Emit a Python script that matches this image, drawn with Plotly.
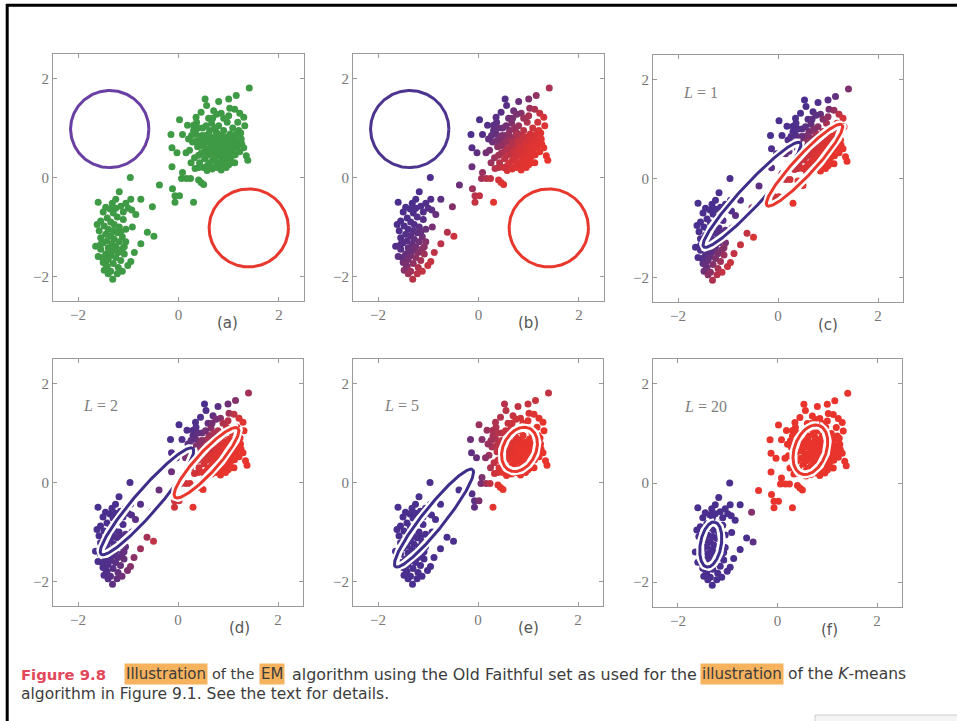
import numpy as np
import plotly.graph_objects as go

# ---------------- data (standardised Old Faithful points) -------------
short_cluster = [
    (-0.96, 0.00), (-1.18, -0.29), (-1.60, -0.50), (-1.25, -0.44), (-0.95, -0.44), (-0.75, -0.44),
    (-1.05, -0.52), (-1.15, -0.58), (-1.00, -0.62), (-0.93, -0.66), (-1.45, -0.60), (-1.36, -0.64),
    (-1.50, -0.70), (-0.52, -0.59), (-1.30, -0.72), (-1.22, -0.80), (-1.42, -0.82), (-1.55, -0.88),
    (-1.35, -0.90), (-1.10, -0.85), (-1.28, -0.95), (-1.48, -0.98), (-1.18, -1.00), (-1.40, -1.05),
    (-1.58, -1.08), (-1.30, -1.08), (-1.05, -1.05), (-1.22, -1.12), (-1.45, -1.15), (-1.35, -1.18),
    (-1.12, -1.20), (-1.55, -1.22), (-1.28, -1.25), (-1.42, -1.28), (-1.18, -1.30), (-1.05, -1.30),
    (-1.50, -1.32), (-1.32, -1.35), (-1.65, -1.39), (-1.25, -1.40), (-1.40, -1.42), (-1.12, -1.44),
    (-1.55, -1.45), (-1.30, -1.48), (-1.20, -1.52), (-1.45, -1.55), (-1.35, -1.58), (-1.08, -1.55),
    (-1.52, -1.62), (-1.25, -1.62), (-1.40, -1.66), (-1.15, -1.68), (-1.50, -1.72), (-1.30, -1.74),
    (-1.01, -1.78), (-1.42, -1.80), (-1.20, -1.82), (-1.48, -1.88), (-1.35, -1.90), (-1.12, -1.90),
    (-1.40, -1.95), (-1.31, -2.06), (-0.62, -1.11), (-0.49, -1.19), (-0.75, -1.34), (-0.92, -1.00),
    (-0.88, -1.52), (-0.95, -1.70), (-1.60, -1.60), (-1.38, -1.48), (-1.15, -1.10), (-1.62, -0.95),
    (-1.25, -0.62), (-1.10, -0.70), (-1.32, -0.52), (-0.85, -0.75), (-1.45, -1.75), (-1.22, -1.95),
    (-1.55, -1.35), (-1.08, -1.40),
]
bridge_points = [
    (-0.38, -0.15), (-0.12, -0.23), (-0.07, -0.37), (0.02, -0.37), (-0.07, -0.50), (0.30, -0.50),
]
long_cluster = [
    (1.41, 1.81), (1.15, 1.66), (1.00, 1.59), (0.53, 1.59), (0.80, 1.54), (0.56, 1.46), (1.02, 1.40),
    (1.12, 1.38), (1.22, 1.30), (1.30, 1.22), (0.70, 1.35), (0.85, 1.30), (0.45, 1.32), (0.35, 1.22),
    (0.60, 1.20), (0.02, 1.17), (0.18, 1.06), (0.30, 1.06), (-0.15, 0.87), (0.08, 0.87), (-0.13, 0.60),
    (-0.03, 0.50), (-0.13, 0.22), (0.08, 0.10), (0.06, -0.02), (0.16, -0.02), (0.24, -0.02), (0.40, -0.05),
    (0.45, -0.10), (0.50, -0.14), (0.40, 0.20), (0.57, 0.14), (0.67, 0.17), (0.77, 0.20), (0.87, 0.24),
    (1.00, 0.26), (1.12, 0.30), (1.35, 0.44), (1.38, 0.35), (1.30, 0.60), (1.25, 0.78), (1.20, 0.95),
    (1.32, 1.05),
    (0.22, 0.55), (0.28, 0.72), (0.32, 0.40), (0.35, 0.88), (0.38, 0.62), (0.42, 0.30), (0.44, 0.78),
    (0.46, 0.50), (0.48, 1.00), (0.50, 0.66), (0.52, 0.38), (0.54, 0.85), (0.56, 0.58), (0.58, 0.25),
    (0.60, 0.72), (0.62, 0.95), (0.63, 0.48), (0.65, 0.62), (0.66, 1.10), (0.68, 0.35), (0.70, 0.80),
    (0.71, 0.55), (0.73, 0.68), (0.74, 0.42), (0.75, 0.92), (0.77, 0.60), (0.78, 0.30), (0.79, 0.75),
    (0.80, 1.05), (0.82, 0.50), (0.83, 0.65), (0.84, 0.85), (0.86, 0.40), (0.87, 0.72), (0.88, 0.58),
    (0.90, 0.95), (0.91, 0.30), (0.92, 0.68), (0.93, 0.48), (0.95, 0.82), (0.96, 0.60), (0.97, 1.12),
    (0.98, 0.38), (1.00, 0.72), (1.01, 0.52), (1.03, 0.88), (1.04, 0.65), (1.05, 0.42), (1.07, 0.78),
    (1.08, 1.00), (1.10, 0.58), (1.12, 0.70), (1.13, 0.46), (1.15, 0.88), (1.17, 0.62), (1.18, 1.12),
    (1.20, 0.75), (1.22, 0.52), (1.24, 0.90), (1.26, 0.68), (0.30, 0.95), (0.36, 1.12), (0.40, 0.45),
    (0.45, 0.65), (0.52, 0.52), (0.55, 0.75), (0.58, 0.45), (0.61, 0.58), (0.64, 0.82), (0.67, 0.70),
    (0.69, 0.52), (0.72, 1.00), (0.76, 0.48), (0.78, 0.88), (0.81, 0.70), (0.85, 0.62), (0.89, 0.80),
    (0.92, 0.55), (0.94, 0.70), (0.99, 0.62), (1.02, 0.80), (1.06, 0.55), (1.09, 0.85), (1.11, 0.65),
    (1.14, 0.75), (0.25, 0.30), (0.33, 0.18), (0.50, 0.20), (0.62, 0.30), (0.73, 0.22), (0.85, 0.15),
    (0.95, 0.20), (1.05, 0.30), (0.15, 0.50), (0.20, 0.78), (0.26, 0.85), (0.40, 1.00), (0.55, 1.05),
    (0.68, 1.20), (0.90, 1.20), (1.00, 1.25), (0.76, 1.28), (0.60, 0.88), (0.47, 0.85), (0.37, 0.75),
]

panel_labels = ["(a)", "(b)", "(c)", "(d)", "(e)", "(f)"]
iteration_labels = [None, None, "1", "2", "5", "20"]
tick_values = [-2, 0, 2]

# Gaussian components drawn in each panel (centre, semi-axes, rotation in degrees)
purple_cx = [-1.37, -1.37, -0.52, -0.62, -0.88, -1.34]
purple_cy = [0.98, 0.98, -0.33, -0.38, -0.72, -1.24]
purple_a = [0.78, 0.78, 1.43, 1.41, 1.25, 0.46]
purple_b = [0.78, 0.78, 0.22, 0.24, 0.22, 0.21]
purple_ang = [0, 0, 47.5, 49.4, 51.8, 80]
red_cx = [1.40, 1.40, 0.53, 0.57, 0.83, 0.66]
red_cy = [-1.02, -1.02, 0.27, 0.40, 0.67, 0.67]
red_a = [0.79, 0.79, 1.11, 0.94, 0.47, 0.52]
red_b = [0.79, 0.79, 0.20, 0.21, 0.33, 0.32]
red_ang = [0, 0, 47.5, 48, 65, 70]
purple_weight = [0.5, 0.5, 0.5, 0.5, 0.5, 0.5]

# ---------------- styling ----------------
W, H = 957, 721
GREEN = "#3f9a45"
PURPLE_PT = "#4a2f8e"
RED_PT = "#e8342c"
PURPLE_LINE = ["#6a3fa3", "#4d358f", "#3f2d8a", "#3f2d8a", "#3f2d8a", "#3f2d8a"]
RED_LINE = "#e8382e"
SERIF = "Liberation Serif, Times New Roman, serif"
SANS = "DejaVu Sans, Liberation Sans, Arial, sans-serif"

# panel boxes in pixels: (left, right, top, bottom)
boxes = [
    (53, 304, 54, 301), (353, 604, 54, 301), (653, 903, 55, 302),
    (53, 303, 359, 606), (353, 603, 359, 606), (653, 902, 359, 607),
]
label_pos = [(227, 323), (528, 323), (828, 325), (240, 628), (528, 628), (829, 630)]
iter_pos = [None, None, (700, 93), (100, 405), (401, 405), (705, 406)]


def px(x):
    return x / W


def py(y):
    return 1 - y / H


pts = short_cluster + bridge_points + long_cluster
X = np.array([p[0] for p in pts])
Y = np.array([p[1] for p in pts])


def cov_of(a, b, ang):
    t = np.deg2rad(ang)
    R = np.array([[np.cos(t), -np.sin(t)], [np.sin(t), np.cos(t)]])
    return R @ np.diag([a * a, b * b]) @ R.T


def gauss(mx, my, C):
    d = np.stack([X - mx, Y - my], axis=1)
    Ci = np.linalg.inv(C)
    m = np.einsum("ni,ij,nj->n", d, Ci, d)
    return np.exp(-0.5 * m) / np.sqrt(np.linalg.det(C))


def ellipse(cx, cy, a, b, ang):
    t = np.linspace(0, 2 * np.pi, 240)
    th = np.deg2rad(ang)
    ex = cx + a * np.cos(t) * np.cos(th) - b * np.sin(t) * np.sin(th)
    ey = cy + a * np.cos(t) * np.sin(th) + b * np.sin(t) * np.cos(th)
    return ex, ey


fig = go.Figure()
layout_axes = {}
annotations = []

for i in range(6):
    sfx = "" if i == 0 else str(i + 1)
    xa, ya = "x" + sfx, "y" + sfx
    l, r, t, b = boxes[i]
    common = dict(range=[-2.5, 2.5], tickvals=tick_values, ticks="inside", ticklen=4,
                  tickcolor="#9a9a9a", showline=True, linecolor="#9a9a9a", linewidth=1,
                  mirror="ticks", showgrid=False, zeroline=False, fixedrange=True,
                  automargin=False,
                  tickfont=dict(family=SERIF, size=15, color="#777777"))
    layout_axes["xaxis" + sfx] = dict(domain=[px(l), px(r)], anchor=ya, **common)
    layout_axes["yaxis" + sfx] = dict(domain=[py(b), py(t)], anchor=xa, **common)

    if i == 0:
        fig.add_trace(go.Scatter(x=X, y=Y, mode="markers", xaxis=xa, yaxis=ya,
                                 marker=dict(size=7, color=GREEN), showlegend=False))
    else:
        Cp = cov_of(purple_a[i], purple_b[i], purple_ang[i])
        Cr = cov_of(red_a[i], red_b[i], red_ang[i])
        gp = purple_weight[i] * gauss(purple_cx[i], purple_cy[i], Cp)
        gr = (1 - purple_weight[i]) * gauss(red_cx[i], red_cy[i], Cr)
        resp = gr / (gp + gr + 1e-300)
        fig.add_trace(go.Scatter(x=X, y=Y, mode="markers", xaxis=xa, yaxis=ya,
                                 marker=dict(size=7, color=resp, cmin=0, cmax=1,
                                             colorscale=[[0, PURPLE_PT], [1, RED_PT]],
                                             showscale=False),
                                 showlegend=False))

    for (cx, cy, a, bb, ang, col) in [
        (purple_cx[i], purple_cy[i], purple_a[i], purple_b[i], purple_ang[i], PURPLE_LINE[i]),
        (red_cx[i], red_cy[i], red_a[i], red_b[i], red_ang[i], RED_LINE),
    ]:
        ex, ey = ellipse(cx, cy, a, bb, ang)
        if i >= 2:
            fig.add_trace(go.Scatter(x=ex, y=ey, mode="lines", xaxis=xa, yaxis=ya,
                                     line=dict(color="white", width=8), showlegend=False,
                                     hoverinfo="skip"))
        fig.add_trace(go.Scatter(x=ex, y=ey, mode="lines", xaxis=xa, yaxis=ya,
                                 line=dict(color=col, width=3), showlegend=False,
                                 hoverinfo="skip"))

    lx, ly = label_pos[i]
    annotations.append(dict(text=panel_labels[i], x=px(lx), y=py(ly), xref="paper", yref="paper",
                            showarrow=False, xanchor="center", yanchor="middle",
                            font=dict(family=SANS, size=15, color="#555555")))
    if iteration_labels[i]:
        ix, iy = iter_pos[i]
        annotations.append(dict(text="<i>L</i> = " + iteration_labels[i], x=px(ix), y=py(iy),
                                xref="paper", yref="paper", showarrow=False,
                                xanchor="center", yanchor="middle",
                                font=dict(family=SERIF, size=16, color="#808080")))

# caption
HIGHLIGHT = "#f7b25e"
TXT = "#3c3c3c"
caption_line1 = [
    ("<b>Figure 9.8</b>", 20, "#e3485a", None, 14.8),
    ("Illustration", 124, TXT, HIGHLIGHT, 15),
    ("of the", 211, TXT, None, 14.5),
    ("EM", 259, TXT, HIGHLIGHT, 15),
    ("algorithm using the Old Faithful set as used for the", 291, TXT, None, 15.9),
    ("illustration", 700, TXT, HIGHLIGHT, 15),
    ("of the <i>K</i>-means", 787, TXT, None, 15.5),
]
for text, x0, col, bg, fs in caption_line1:
    ann = dict(text=text, x=px(x0), y=py(674), xref="paper", yref="paper", showarrow=False,
               xanchor="left", yanchor="middle", font=dict(family=SANS, size=fs, color=col),
               borderpad=1 if bg else 0)
    if bg:
        ann["bgcolor"] = bg
    annotations.append(ann)
annotations.append(dict(text="algorithm in Figure 9.1. See the text for details.", x=px(20), y=py(694),
                        xref="paper", yref="paper", showarrow=False, xanchor="left",
                        yanchor="middle", font=dict(family=SANS, size=15.5, color=TXT), borderpad=0))

shapes = [
    dict(type="line", xref="paper", yref="paper", x0=px(6), x1=1, y0=py(5.3), y1=py(5.3),
         line=dict(color="black", width=3)),
    dict(type="line", xref="paper", yref="paper", x0=px(7.2), x1=px(7.2), y0=0, y1=py(4),
         line=dict(color="black", width=3)),
    dict(type="rect", xref="paper", yref="paper", x0=px(815), x1=1.01, y0=-0.01, y1=py(715),
         line=dict(color="#cccccc", width=1), fillcolor="#f4f4f4"),
]

fig.update_layout(template="none", width=W, height=H, margin=dict(l=0, r=0, t=0, b=0),
                  paper_bgcolor="white", plot_bgcolor="white",
                  annotations=annotations, shapes=shapes, showlegend=False, **layout_axes)

fig.write_html("out.html", config={"displayModeBar": False},
               post_script="document.body.style.margin='0px';")
